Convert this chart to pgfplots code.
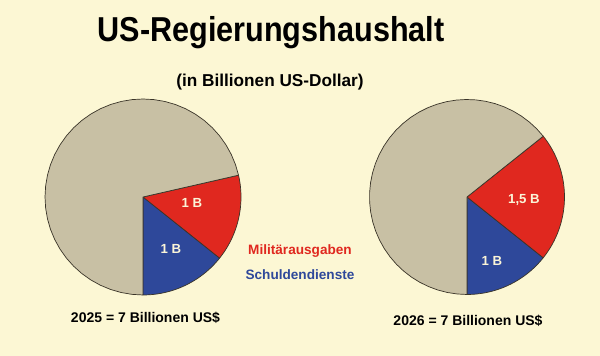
\documentclass[border=0pt]{standalone}
\usepackage{pgfplots}
\pgfplotsset{compat=1.18}
\usepackage{fontspec}
\setmainfont{Liberation Sans}
\definecolor{bgc}{HTML}{FCF7D4}
\definecolor{restc}{HTML}{C8C0A4}
\definecolor{milc}{HTML}{E0281F}
\definecolor{debtc}{HTML}{2E489A}
\definecolor{lblc}{HTML}{FBF5D8}
\definecolor{edgec}{HTML}{3A3428}
% slice: center x, center y, radius, cumulative start, cumulative end, total, colour
\newcommand{\pieslice}[7]{%
  \addplot[fill=#7, draw=edgec, line width=0.35pt, line join=round,
    samples at={-1,0,0.025,...,1.0001,-2}, variable=\t]
  ({#1 + (\t>=0)*#3*cos(-90 + 360*(#4 + (#5-#4)*max(\t,0))/#6)},
   {#2 + (\t>=0)*#3*sin(-90 + 360*(#4 + (#5-#4)*max(\t,0))/#6)});
}
\begin{document}
\begin{tikzpicture}
\begin{axis}[
  width=300pt, height=178pt, scale only axis,
  xmin=0, xmax=600, ymin=0, ymax=356,
  hide axis, clip=false]
\addplot[fill=bgc, draw=none] coordinates {(0,0) (600,0) (600,356) (0,356)} -- cycle;
% 2025: Schuldendienste 1, Militaerausgaben 1, Rest 5 (total 7)
\pieslice{143}{159}{98}{0}{1}{7}{debtc}
\pieslice{143}{159}{98}{1}{2}{7}{milc}
\pieslice{143}{159}{98}{2}{7}{7}{restc}
% 2026: Schuldendienste 1, Militaerausgaben 1.5, Rest 4.5 (total 7)
\pieslice{467}{159}{97.5}{0}{1}{7}{debtc}
\pieslice{467}{159}{97.5}{1}{2.5}{7}{milc}
\pieslice{467}{159}{97.5}{2.5}{7}{7}{restc}
\node[anchor=base, yscale=1.13, font=\fontsize{15.3}{18}\selectfont\bfseries] at (axis cs:271,314) {US-Regierungshaushalt};
\node[anchor=base, font=\fontsize{8.6}{10}\selectfont\bfseries] at (axis cs:270,269) {(in Billionen US-Dollar)};
\node[anchor=base, font=\fontsize{6.6}{8}\selectfont\bfseries, text=lblc] at (axis cs:192,148) {1 B};
\node[anchor=base, font=\fontsize{6.6}{8}\selectfont\bfseries, text=lblc] at (axis cs:171,102) {1 B};
\node[anchor=base, font=\fontsize{6.6}{8}\selectfont\bfseries, text=lblc] at (axis cs:524,152) {1,5 B};
\node[anchor=base, font=\fontsize{6.6}{8}\selectfont\bfseries, text=lblc] at (axis cs:492,90) {1 B};
\node[anchor=base, font=\fontsize{6.8}{8}\selectfont\bfseries, text=milc] at (axis cs:300,101) {Militärausgaben};
\node[anchor=base, font=\fontsize{6.8}{8}\selectfont\bfseries, text=debtc] at (axis cs:300,76) {Schuldendienste};
\node[anchor=base, font=\fontsize{7}{8}\selectfont\bfseries] at (axis cs:145.5,33) {2025 = 7 Billionen US\$};
\node[anchor=base, font=\fontsize{7}{8}\selectfont\bfseries] at (axis cs:468,30) {2026 = 7 Billionen US\$};
\end{axis}
\end{tikzpicture}
\end{document}
